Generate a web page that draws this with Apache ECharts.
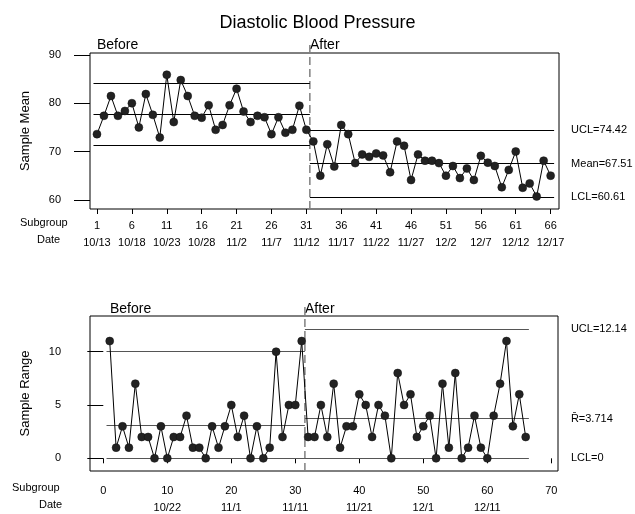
<!DOCTYPE html>
<html><head><meta charset="utf-8">
<script src="https://cdn.jsdelivr.net/npm/echarts@6/dist/echarts.min.js"></script>
<style>html,body{margin:0;padding:0;background:#fff}#c{width:635px;height:514px}</style>
</head><body><div id="c"></div>
<script>
// ---- data ----
const meanValues = [73.6,77.4,81.5,77.4,78.4,80.0,75.0,81.9,77.6,72.9,85.9,76.1,84.8,81.5,77.4,77.0,79.6,74.5,75.5,79.6,83.0,78.3,76.1,77.4,77.1,73.6,77.1,73.9,74.5,79.5,74.5,
  72.1,65.0,71.5,66.9,75.5,73.6,67.6,69.4,68.9,69.6,69.2,65.7,72.1,71.2,64.1,69.4,68.1,68.1,67.6,65.0,67.0,64.5,66.5,64.1,69.1,67.7,67.0,62.6,66.2,70.0,62.5,63.4,60.7,68.1,65.0];
const rangeValues = [11,1,3,1,7,2,2,0,3,0,2,2,4,1,1,0,3,1,3,5,2,4,0,3,0,1,10,2,5,5,11,
  2,2,5,2,7,1,3,3,6,5,2,5,4,0,8,5,6,2,3,4,0,7,1,8,0,1,4,1,0,4,7,11,3,6,2];
const topSubgroupTicks = [1,6,11,16,21,26,31,36,41,46,51,56,61,66];
const topDateLabels = ['10/13','10/18','10/23','10/28','11/2','11/7','11/12','11/17','11/22','11/27','12/2','12/7','12/12','12/17'];
const bottomSubgroupTicks = [0,10,20,30,40,50,60,70];
const bottomDateLabels = ['','10/22','11/1','11/11','11/21','12/1','12/11',''];
const meanYTicks = [60,70,80,90];
const rangeYTicks = [0,5,10];
const meanLimitsBefore = [84.2,77.8,71.4];
const meanLimitsAfter = [74.42,67.51,60.61];
const meanLimitNames = ['UCL=74.42','Mean=67.51','LCL=60.61'];
const rangeLimitsBefore = [10.01,3.065,0];
const rangeLimitsAfter = [12.14,3.714,0];
const rangeLimitNames = ['UCL=12.14','R\u0304=3.714','LCL=0'];
const phaseStart = 0.5, phaseSplit = 31.5, phaseEnd = 66.5;

// ---- chart ----
const FONT = '"Liberation Sans", Arial, sans-serif';
const chart = echarts.init(document.getElementById('c'), null, {renderer:'canvas'});

function limitLines(before, after, names, color, dist){
  const d = [];
  before.forEach(v => d.push([{coord:[phaseStart,v]},{coord:[phaseSplit,v]}]));
  after.forEach((v,i) => d.push([{coord:[phaseSplit,v], label:{show:true, position:'end', formatter:names[i], distance:dist, color:'#000', fontSize:11, fontFamily:FONT}},{coord:[phaseEnd,v]}]));
  return {symbol:'none', silent:true, animation:false, label:{show:false},
    lineStyle:{color:color, width:1, type:'solid'}, emphasis:{disabled:true}, data:d};
}

const topMap = {}; topSubgroupTicks.forEach((t,i)=>topMap[t]=topDateLabels[i]);
const botMap = {}; bottomSubgroupTicks.forEach((t,i)=>botMap[t]=bottomDateLabels[i]);

const xLabelRich = {s:{fontSize:11, fontFamily:FONT, color:'#000', lineHeight:17}, d:{fontSize:11, fontFamily:FONT, color:'#000', lineHeight:17}};

const option = {
  animation:false,
  backgroundColor:'#fff',
  title:{text:'Diastolic Blood Pressure', left:'center', top:9, textStyle:{fontSize:18, fontWeight:'normal', fontFamily:FONT, color:'#000'}},
  grid:[
    {left:90, top:53, width:469, height:156, show:true, borderColor:'#000', borderWidth:1, backgroundColor:'transparent'},
    {left:90, top:316, width:468, height:155, show:true, borderColor:'#000', borderWidth:1, backgroundColor:'transparent'}
  ],
  xAxis:[
    {type:'value', gridIndex:0, min:0, max:67.2, splitLine:{show:false}, axisLine:{show:false},
     axisTick:{show:true, length:5, customValues:topSubgroupTicks, lineStyle:{color:'#000'}},
     axisLabel:{show:true, margin:8, customValues:topSubgroupTicks, rich:xLabelRich,
       formatter:v=>'{s|'+v+'}\n{d|'+(topMap[v]||'')+'}'}},
    {type:'value', gridIndex:1, min:-2.08, max:71.05, splitLine:{show:false}, axisLine:{show:false},
     axisTick:{show:true, length:5, customValues:bottomSubgroupTicks, lineStyle:{color:'#000'}},
     axisLabel:{show:true, margin:11, customValues:bottomSubgroupTicks, rich:xLabelRich,
       formatter:v=>'{s|'+v+'}\n{d|'+(botMap[v]||' ')+'}'}}
  ],
  yAxis:[
    {type:'value', gridIndex:0, min:58.1, max:90.4, splitLine:{show:false}, axisLine:{show:false},
     name:'Sample Mean', nameLocation:'middle', nameGap:58, nameTextStyle:{fontSize:13, fontFamily:FONT, color:'#000'},
     axisTick:{show:true, length:16, customValues:meanYTicks, lineStyle:{color:'#000'}},
     axisLabel:{show:true, margin:29, customValues:meanYTicks, fontSize:11, fontFamily:FONT, color:'#000'}},
    {type:'value', gridIndex:1, min:-1.19, max:13.35, splitLine:{show:false}, axisLine:{show:false},
     name:'Sample Range', nameLocation:'middle', nameGap:58, nameTextStyle:{fontSize:13, fontFamily:FONT, color:'#000'},
     axisTick:{show:true, length:16, customValues:rangeYTicks, lineStyle:{color:'#000'}},
     axisLabel:{show:true, margin:29, customValues:rangeYTicks, fontSize:11, fontFamily:FONT, color:'#000'}}
  ],
  series:[
    {type:'line', xAxisIndex:0, yAxisIndex:0, data:meanValues.map((v,i)=>[i+1,v]),
     symbol:'circle', symbolSize:8, itemStyle:{color:'#222', borderColor:'#111', borderWidth:0.5},
     lineStyle:{color:'#000', width:1}, z:5,
     markLine:limitLines(meanLimitsBefore, meanLimitsAfter, meanLimitNames, '#000', 17)},
    {type:'line', xAxisIndex:1, yAxisIndex:1, data:rangeValues.map((v,i)=>[i+1,v]),
     symbol:'circle', symbolSize:8, itemStyle:{color:'#222', borderColor:'#111', borderWidth:0.5},
     lineStyle:{color:'#000', width:1}, z:5,
     markLine:limitLines(rangeLimitsBefore, rangeLimitsAfter, rangeLimitNames, '#555', 42)},
    {type:'line', xAxisIndex:0, yAxisIndex:0, data:[[phaseSplit,58.1],[phaseSplit,92.6]], clip:false,
     showSymbol:false, symbol:'none', silent:true, lineStyle:{color:'#808080', width:1.5, type:[8,4]}, z:3},
    {type:'line', xAxisIndex:1, yAxisIndex:1, data:[[phaseSplit,-1.19],[phaseSplit,14.2]], clip:false,
     showSymbol:false, symbol:'none', silent:true, lineStyle:{color:'#808080', width:1.5, type:[8,4]}, z:3}
  ],
  graphic:[
    {type:'text', left:97, top:38, style:{text:'Before', font:'14px '+FONT, fill:'#000'}},
    {type:'text', left:310, top:38, style:{text:'After', font:'14px '+FONT, fill:'#000'}},
    {type:'text', left:110, top:302, style:{text:'Before', font:'14px '+FONT, fill:'#000'}},
    {type:'text', left:305, top:302, style:{text:'After', font:'14px '+FONT, fill:'#000'}},
    {type:'text', left:20, top:217, style:{text:'Subgroup', font:'11px '+FONT, fill:'#000'}},
    {type:'text', left:37, top:234, style:{text:'Date', font:'11px '+FONT, fill:'#000'}},
    {type:'text', left:12, top:482, style:{text:'Subgroup', font:'11px '+FONT, fill:'#000'}},
    {type:'text', left:39, top:499, style:{text:'Date', font:'11px '+FONT, fill:'#000'}}
  ]
};
chart.setOption(option);
</script></body></html>
